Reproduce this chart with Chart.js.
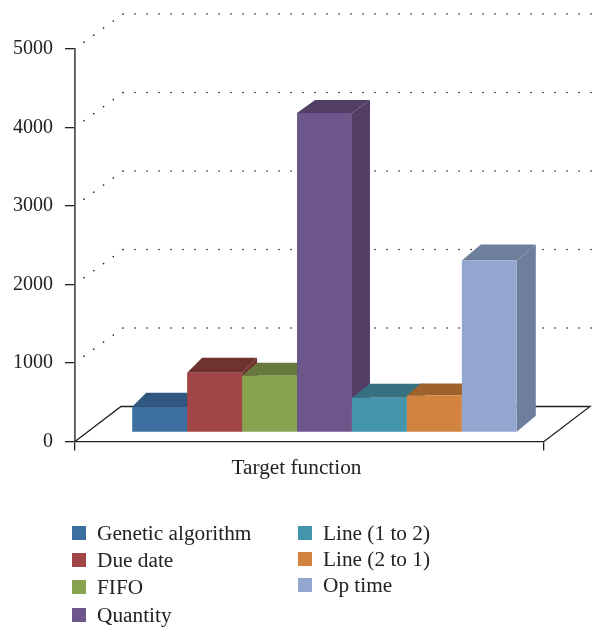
<!DOCTYPE html>
<html>
<head>
<meta charset="utf-8">
<script src="https://cdn.jsdelivr.net/npm/chart.js@4"></script>
<style>
  html, body { margin: 0; padding: 0; background: #fff; overflow: hidden; }
  #wrap { position: relative; width: 594px; height: 629px; font-family: "Liberation Serif", serif; color: #222; }
  .key { position: absolute; font-size: 21.3px; line-height: 20px; white-space: nowrap; }
  .key i { position: absolute; left: -25px; top: 3px; width: 14px; height: 14px; }
</style>
</head>
<body>
<div id="wrap">
  <canvas id="chart" width="594" height="629"></canvas>
</div>
<script>
const categories = ["Target function"];
const seriesNames = ["Genetic algorithm", "Due date", "FIFO", "Quantity", "Line (1 to 2)", "Line (2 to 1)", "Op time"];
const seriesValues = [328, 760, 722, 4070, 442, 470, 2190];
const tickValues = [0, 1000, 2000, 3000, 4000, 5000];

const frontColors = ["#3c6e9f", "#a24546", "#88a350", "#6d5689", "#4295aa", "#d28340", "#93a6cf"];
const darkColors = ["#2f5780", "#70322f", "#66783c", "#533f66", "#36717f", "#a0622b", "#6d7f9a"];

const floorDepth = { x: 46, y: -35 };
const barShift = { x: 15, y: -9 };
const depthX = [14, 15, 15, 18, 18, 14, 19];
const depthY = [14, 15, 13, 13, 14, 12, 16];

function poly(ctx, pts, color) {
  ctx.fillStyle = color;
  ctx.beginPath();
  pts.forEach((p, i) => i ? ctx.lineTo(p[0], p[1]) : ctx.moveTo(p[0], p[1]));
  ctx.closePath();
  ctx.fill();
}

// back wall dots and the floor outline
const roomPlugin = {
  id: "room",
  beforeDatasetsDraw(chart) {
    const { ctx, chartArea: area, scales: { y } } = chart;
    const cornerX = area.left + floorDepth.x + 2;
    ctx.save();
    ctx.strokeStyle = "#222";
    ctx.lineWidth = 1.6;
    ctx.lineCap = "round";
    ctx.setLineDash([0.1, 11.9]);
    tickValues.filter(v => v > 0).forEach(v => {
      const py = y.getPixelForValue(v);
      ctx.beginPath();
      ctx.moveTo(cornerX, py + floorDepth.y);
      ctx.lineTo(area.left + 8, py - 6);
      ctx.moveTo(cornerX, py + floorDepth.y);
      ctx.lineTo(600, py + floorDepth.y);
      ctx.stroke();
    });
    ctx.restore();

    ctx.save();
    ctx.strokeStyle = "#222";
    ctx.lineWidth = 1.3;
    ctx.beginPath();
    ctx.moveTo(area.left, area.bottom);
    ctx.lineTo(area.left + floorDepth.x, area.bottom + floorDepth.y);
    ctx.lineTo(area.right + floorDepth.x, area.bottom + floorDepth.y);
    ctx.lineTo(area.right, area.bottom);
    ctx.stroke();
    ctx.restore();
  },
  // the default pass paints the first dataset on top, here they go left to right
  beforeDatasetDraw() {
    return false;
  },
  afterDatasetsDraw(chart) {
    const ctx = chart.ctx;
    ctx.save();
    ctx.translate(barShift.x, barShift.y);
    seriesValues.forEach((v, i) => {
      const meta = chart.getDatasetMeta(i);
      const bar = meta.data[0];
      const l = bar.x - bar.width / 2;
      const r = bar.x + bar.width / 2;
      const t = bar.y;
      const b = bar.base;
      const dx = depthX[i];
      const dy = depthY[i];
      poly(ctx, [[r, t], [r + dx, t - dy], [r + dx, b - dy], [r, b]], darkColors[i]);
      poly(ctx, [[l, t], [l + dx, t - dy], [r + dx, t - dy], [r, t]], darkColors[i]);
      meta.controller.draw();
    });
    ctx.restore();
  }
};

new Chart(document.getElementById("chart").getContext("2d"), {
  type: "bar",
  plugins: [roomPlugin],
  data: {
    labels: categories,
    datasets: seriesNames.map((name, i) => ({
      label: name,
      data: [seriesValues[i]],
      backgroundColor: frontColors[i],
      borderWidth: 0
    }))
  },
  options: {
    responsive: false,
    animation: false,
    layout: { padding: { top: 49, right: 50 } },
    categoryPercentage: 0.82,
    barPercentage: 1,
    plugins: { legend: { display: false }, tooltip: { enabled: false } },
    scales: {
      x: {
        afterFit: s => { s.height = 187.5; },
        grid: { offset: true, drawOnChartArea: false, color: "#222", lineWidth: 1.3, tickLength: 9 },
        border: { color: "#222", width: 1.3 },
        ticks: {
          color: "#222",
          padding: 5,
          labelOffset: -13,
          font: { family: "Liberation Serif", size: 21.3 }
        }
      },
      y: {
        min: 0,
        max: 5000,
        afterFit: s => { s.width = 75; },
        afterBuildTicks: s => { s.ticks = tickValues.map(value => ({ value })); },
        grid: { drawOnChartArea: false, color: "#222", lineWidth: 1.3, tickLength: 10 },
        border: { color: "#555", width: 1.8 },
        ticks: {
          color: "#222",
          padding: 12,
          callback: v => String(v),
          font: { family: "Liberation Serif", size: 20 }
        }
      }
    }
  }
});

// two column key under the plot
const keySlots = [[97, 523], [97, 550], [97, 577], [97, 605], [323, 523], [323, 549], [323, 575]];
const wrap = document.getElementById("wrap");
seriesNames.forEach((name, i) => {
  const item = document.createElement("div");
  item.className = "key";
  item.style.left = keySlots[i][0] + "px";
  item.style.top = keySlots[i][1] + "px";
  item.innerHTML = `<i style="background:${frontColors[i]}"></i>${name}`;
  wrap.appendChild(item);
});
</script>
</body>
</html>
